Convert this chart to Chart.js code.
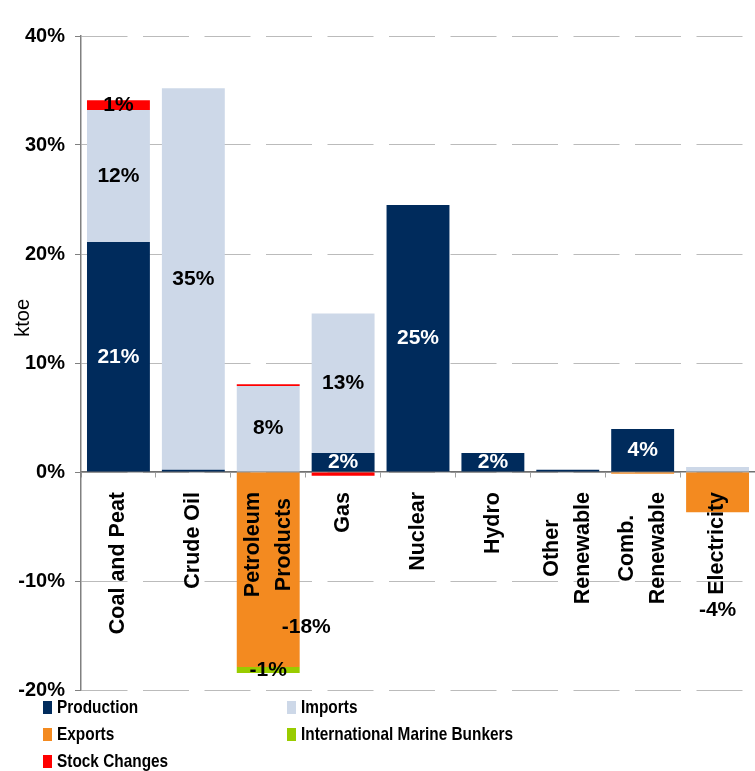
<!DOCTYPE html>
<html>
<head>
<meta charset="utf-8">
<script src="https://cdn.jsdelivr.net/npm/chart.js@4.4.1/dist/chart.umd.min.js"></script>
<style>
  html, body { margin: 0; padding: 0; background: #fff; }
  #wrap { position: relative; width: 755px; height: 771px; overflow: hidden; }
  #legenda { position: absolute; left: 0; top: 0; width: 755px; height: 771px; pointer-events: none;
    font: bold 19px "Liberation Sans", Arial, sans-serif; color: #000; }
  .item { position: absolute; display: flex; align-items: center; height: 24px; white-space: nowrap; }
  .caixa { width: 9px; height: 13px; margin-right: 5px; flex: none; }
  .texto { display: inline-block; transform: scaleX(0.81); transform-origin: left center; }
</style>
</head>
<body>
<div id="wrap">
  <canvas id="grafico" width="755" height="771"></canvas>
  <div id="legenda"></div>
</div>
<script>
const categorias = [['Coal and Peat'], ['Crude Oil'], ['Petroleum', 'Products'], ['Gas'], ['Nuclear'], ['Hydro'], ['Other', 'Renewable'], ['Comb.', 'Renewable'], ['Electricity']]
const producao = [21.1, 0.2, 0, 1.75, 24.5, 1.75, 0.2, 3.95, 0]
const importacoes = [12.1, 35.0, 7.9, 12.8, 0, 0, 0, 0, 0.45]
const exportacoes = [0, 0, -17.9, 0, 0, 0, 0, -0.15, -3.7]
const bunkers = [0, 0, -0.55, 0, 0, 0, 0, 0, 0]
const variacaoEstoque = [0.9, 0, 0.15, -0.35, 0, 0, 0, 0, 0]
const nomesSeries = ['Production', 'Imports', 'Exports', 'International Marine Bunkers', 'Stock Changes']
const coresSeries = ['#002B5C', '#CDD8E8', '#F38A20', '#99CC00', '#FF0000']
const ticksY = [-20, -10, 0, 10, 20, 30, 40]

// rotulos que o Excel empurrou pra fora do lugar
const deslocRotulo = { 'Exports:2': [38, 57], 'Exports:8': [0, 118] }
const fonte = '"Liberation Sans", Arial, sans-serif'

const rotulosDados = {
  id: 'rotulosDados',
  afterDatasetsDraw(chart) {
    const ctx = chart.ctx
    ctx.save()
    ctx.font = 'bold 21px ' + fonte
    ctx.textAlign = 'center'
    ctx.textBaseline = 'middle'
    chart.data.datasets.forEach((ds, d) => {
      chart.getDatasetMeta(d).data.forEach((bar, i) => {
        const v = ds.data[i]
        if (!v || Math.round(v) === 0) return
        const desl = deslocRotulo[ds.label + ':' + i] || [0, 0]
        ctx.fillStyle = d === 0 ? '#fff' : '#000'
        ctx.fillText(Math.round(v) + '%', bar.x + desl[0], (bar.y + bar.base) / 2 + desl[1])
      })
    })
    ctx.restore()
  }
}

const rotulosCategorias = {
  id: 'rotulosCategorias',
  afterDatasetsDraw(chart) {
    const ctx = chart.ctx
    const x = chart.scales.x
    const y = chart.scales.y
    const y0 = y.getPixelForValue(0) + 20
    ctx.save()
    ctx.font = 'bold 21.5px ' + fonte
    ctx.fillStyle = '#000'
    ctx.textAlign = 'center'
    ctx.textBaseline = 'middle'
    categorias.forEach((linhas, i) => {
      const larg = Math.max(...linhas.map(l => ctx.measureText(l).width))
      ctx.save()
      ctx.translate(x.getPixelForValue(i), y0)
      ctx.rotate(-Math.PI / 2)
      linhas.forEach((l, j) => {
        ctx.fillText(l, -larg / 2, (j - (linhas.length - 1) / 2) * 31)
      })
      ctx.restore()
    })
    // titulo do eixo y
    ctx.font = '20px ' + fonte
    ctx.translate(23, y.top + (y.bottom - y.top) * 0.431)
    ctx.rotate(-Math.PI / 2)
    ctx.fillText('ktoe', 0, 0)
    ctx.restore()
  }
}

const dadosSeries = [producao, importacoes, exportacoes, bunkers, variacaoEstoque]

const ctx = document.getElementById('grafico').getContext('2d')
const grafico = new Chart(ctx, {
  type: 'bar',
  data: {
    labels: categorias.map(c => c.join(' ')),
    datasets: dadosSeries.map((data, k) => ({
      label: nomesSeries[k].split(' ')[0],
      data,
      backgroundColor: coresSeries[k],
      borderWidth: 0,
      barPercentage: 0.84,
      categoryPercentage: 1
    }))
  },
  options: {
    responsive: false,
    animation: false,
    devicePixelRatio: 1,
    layout: { padding: { top: 36, right: 0, bottom: 81, left: 0 } },
    plugins: {
      legend: { display: false },
      tooltip: { enabled: false }
    },
    scales: {
      x: {
        stacked: true,
        position: { y: 0 },
        grid: { offset: true, drawOnChartArea: false, tickLength: 5, color: '#A0A0A0' },
        border: { color: '#707070', width: 1.5 },
        ticks: { display: false }
      },
      y: {
        stacked: true,
        min: ticksY[0],
        max: ticksY[ticksY.length - 1],
        afterBuildTicks: s => { s.ticks = ticksY.map(value => ({ value })) },
        afterFit: s => { s.width = 81 },
        ticks: {
          callback: v => v + '%',
          color: '#000',
          padding: 10,
          font: { family: fonte, size: 20, weight: 'bold' }
        },
        grid: { color: '#BBBBBB', tickLength: 6, tickColor: '#808080', borderDash: [46, 15.5] },
        border: { color: '#808080', width: 1.5, dash: [46, 15.5] }
      }
    }
  },
  plugins: [rotulosDados, rotulosCategorias]
})

const posLegenda = [[43, 707], [287, 707], [43, 734], [287, 734], [43, 761]]
const legenda = document.getElementById('legenda')
nomesSeries.forEach((nome, k) => {
  const item = document.createElement('div')
  item.className = 'item'
  item.style.left = posLegenda[k][0] + 'px'
  item.style.top = (posLegenda[k][1] - 12) + 'px'
  item.innerHTML = `<span class="caixa" style="background:${coresSeries[k]}"></span><span class="texto">${nome}</span>`
  legenda.appendChild(item)
})
</script>
</body>
</html>
